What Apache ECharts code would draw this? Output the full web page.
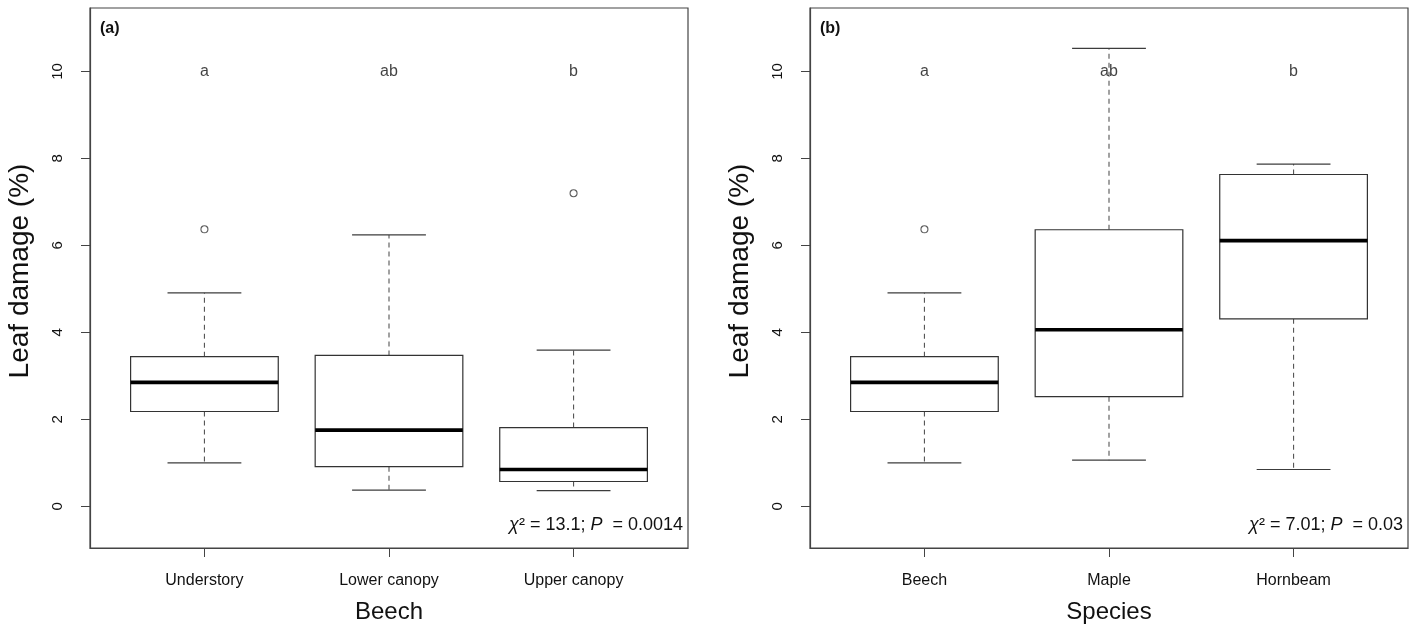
<!DOCTYPE html>
<html><head><meta charset="utf-8">
<script src="https://cdn.jsdelivr.net/npm/echarts@6/dist/echarts.min.js"></script>
<style>html,body{margin:0;padding:0;background:#fff}#c{width:1413px;height:626px}</style>
</head><body><div id="c"></div>
<script>
// ---- Data ----
const categoriesA = ['Understory', 'Lower canopy', 'Upper canopy'];
const whiskerLowA = [1.00, 0.37, 0.36];
const q1A = [2.18, 0.91, 0.57];
const medianA = [2.85, 1.75, 0.845];
const q3A = [3.44, 3.47, 1.81];
const whiskerHighA = [4.91, 6.24, 3.59];
const outliersA = [[1, 6.37], [3, 7.20]];
const lettersA = ['a', 'ab', 'b'];
const statA = { chi: '13.1', p: '0.0014' };

const categoriesB = ['Beech', 'Maple', 'Hornbeam'];
const whiskerLowB = [1.00, 1.06, 0.845];
const q1B = [2.18, 2.52, 4.31];
const medianB = [2.85, 4.06, 6.11];
const q3B = [3.44, 6.36, 7.63];
const whiskerHighB = [4.91, 10.53, 7.87];
const outliersB = [[1, 6.37]];
const lettersB = ['a', 'ab', 'b'];
const statB = { chi: '7.01', p: '0.03' };

const yTicks = [0, 2, 4, 6, 8, 10];
const xTicks = [1, 2, 3];
const letterY = 10;

// ---- Chart ----
const FONT = '"Liberation Sans", Arial, sans-serif';
const chart = echarts.init(document.getElementById('c'), null, { renderer: 'canvas' });

function renderBox(params, api) {
  const x = api.value(0);
  const c = v => api.coord([x, v]);
  const hw = api.size([0.4, 0])[0];
  const cw = api.size([0.2, 0])[0];
  const cx = c(api.value(3))[0];
  const yLo = c(api.value(1))[1], yQ1 = c(api.value(2))[1], yMed = c(api.value(3))[1],
        yQ3 = c(api.value(4))[1], yHi = c(api.value(5))[1];
  const solid = { stroke: '#3c3c3c', lineWidth: 1.2 };
  const dashed = { stroke: '#555', lineWidth: 1.1, lineDash: [5, 4] };
  return {
    type: 'group',
    children: [
      { type: 'line', shape: { x1: cx, y1: yQ3, x2: cx, y2: yHi }, style: dashed },
      { type: 'line', shape: { x1: cx, y1: yQ1, x2: cx, y2: yLo }, style: dashed },
      { type: 'line', shape: { x1: cx - cw, y1: yHi, x2: cx + cw, y2: yHi }, style: solid },
      { type: 'line', shape: { x1: cx - cw, y1: yLo, x2: cx + cw, y2: yLo }, style: solid },
      { type: 'rect', shape: { x: cx - hw, y: yQ3, width: 2 * hw, height: yQ1 - yQ3 },
        style: { fill: '#fff', stroke: '#333', lineWidth: 1.2 } },
      { type: 'line', shape: { x1: cx - hw, y1: yMed, x2: cx + hw, y2: yMed },
        style: { stroke: '#000', lineWidth: 3.6 } }
    ]
  };
}

const grids = [], xAxes = [], yAxes = [], series = [];
function addPanel(i, left, cats, lo, q1, med, q3, hi, outs, letters, xName) {
  grids.push({ left: left, top: 8, width: 598, height: 540, show: true,
    containLabel: false, outerBoundsMode: 'none',
    borderColor: '#444', borderWidth: 1.2, backgroundColor: 'transparent' });
  xAxes.push({
    gridIndex: i, type: 'value', min: 0.38, max: 3.62,
    axisLine: { show: true, onZero: false, lineStyle: { color: '#444', width: 1.2 } },
    axisTick: { show: true, length: 9, customValues: xTicks, lineStyle: { color: '#444' } },
    axisLabel: { customValues: xTicks, formatter: v => cats[Math.round(v) - 1],
      color: '#111', fontSize: 16, fontFamily: FONT, margin: 25 },
    splitLine: { show: false },
    name: xName, nameLocation: 'middle', nameGap: 52,
    nameTextStyle: { color: '#111', fontSize: 24, fontFamily: FONT }
  });
  yAxes.push({
    gridIndex: i, type: 'value', min: -0.96, max: 11.46,
    axisLine: { show: true, onZero: false, lineStyle: { color: '#444', width: 1.2 } },
    axisTick: { show: true, length: 9, customValues: yTicks, lineStyle: { color: '#444' } },
    axisLabel: { customValues: yTicks, rotate: 90, color: '#111', fontSize: 15,
      fontFamily: FONT, margin: 25 },
    splitLine: { show: false },
    name: 'Leaf damage (%)', nameLocation: 'middle', nameGap: 56,
    nameTextStyle: { color: '#111', fontSize: 28, fontFamily: FONT, padding: [0, 0, 0, 14] }
  });
  series.push({
    type: 'custom', xAxisIndex: i, yAxisIndex: i,
    renderItem: renderBox,
    encode: { x: 0, y: [1, 2, 3, 4, 5] },
    data: cats.map((c, k) => [k + 1, lo[k], q1[k], med[k], q3[k], hi[k]]),
    silent: true
  });
  series.push({
    type: 'scatter', xAxisIndex: i, yAxisIndex: i, symbol: 'circle', symbolSize: 7,
    itemStyle: { color: '#fff', borderColor: '#333', borderWidth: 1.1 },
    data: outs, silent: true, z: 5
  });
  series.push({
    type: 'scatter', xAxisIndex: i, yAxisIndex: i, symbolSize: 0,
    data: letters.map((l, k) => [k + 1, letterY, l]),
    label: { show: true, position: 'inside', formatter: p => p.value[2],
      color: '#111', fontSize: 16, fontFamily: FONT },
    silent: true
  });
}
addPanel(0, 90, categoriesA, whiskerLowA, q1A, medianA, q3A, whiskerHighA, outliersA, lettersA, 'Beech');
addPanel(1, 810, categoriesB, whiskerLowB, q1B, medianB, q3B, whiskerHighB, outliersB, lettersB, 'Species');

function statText(s) {
  return '{i|χ}{n|² = ' + s.chi + '; }{i|P}{n|  = ' + s.p + '}';
}
const rich = {
  i: { fontStyle: 'italic', fontSize: 18, fontFamily: FONT, fill: '#111' },
  n: { fontSize: 18, fontFamily: FONT, fill: '#111' }
};

chart.setOption({
  animation: false,
  backgroundColor: '#fff',
  grid: grids, xAxis: xAxes, yAxis: yAxes, series: series,
  graphic: [
    { type: 'text', left: 100, top: 21, style: { text: '(a)', font: 'bold 16px ' + FONT, fill: '#111' } },
    { type: 'text', left: 820, top: 21, style: { text: '(b)', font: 'bold 16px ' + FONT, fill: '#111' } },
    { type: 'text', x: 683, y: 525, style: { text: statText(statA), rich: rich, align: 'right', verticalAlign: 'middle', fill: '#111' } },
    { type: 'text', x: 1403, y: 525, style: { text: statText(statB), rich: rich, align: 'right', verticalAlign: 'middle', fill: '#111' } }
  ]
});
</script></body></html>
